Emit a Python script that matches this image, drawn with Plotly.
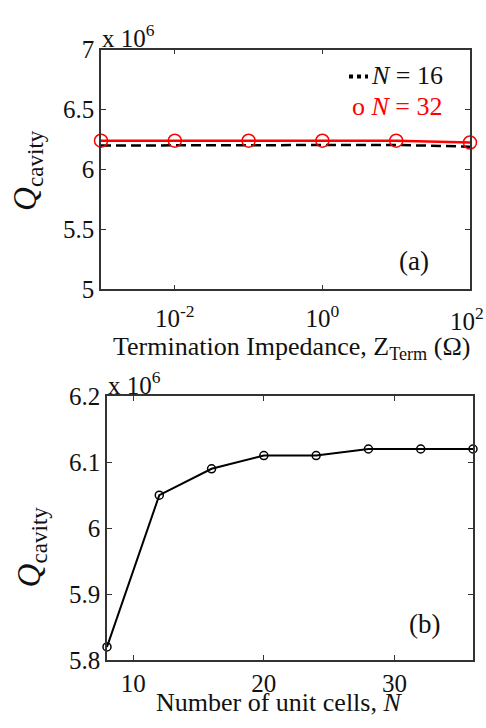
import plotly.graph_objects as go

# ---- data (Q in units of 10^6) ----
z_term = [1e-3, 1e-2, 1e-1, 1e0, 1e1, 1e2]
q_n16 = [6.20, 6.20, 6.20, 6.20, 6.205, 6.19]
q_n32 = [6.24, 6.24, 6.24, 6.24, 6.24, 6.225]

n_cells = [8, 12, 16, 20, 24, 28, 32, 36]
q_cells = [5.82, 6.05, 6.09, 6.11, 6.11, 6.12, 6.12, 6.12]

ya_ticks = [5, 5.5, 6, 6.5, 7]
ya_text = ["5", "5.5", "6", "6.5", "7"]
yb_ticks = [5.8, 5.9, 6.0, 6.1, 6.2]
yb_text = ["5.8", "5.9", "6", "6.1", "6.2"]
xa_ticks = [1e-2, 1e0, 1e2]
xa_text = ["10<sup>-2</sup>", "10<sup>0</sup>", ""]
xa_last_label = "10<sup>2</sup>"
xb_ticks = [10, 20, 30]

W, H = 486, 728
FONT = "Liberation Serif, Times New Roman, serif"
AX = "#333333"
TXT = "#111111"

def px(x):
    return x / W

def py(y):
    return 1 - y / H

fig = go.Figure()
fig.add_trace(go.Scatter(x=z_term, y=q_n16, mode="lines", name="N = 16",
                         line=dict(color="black", width=2.5, dash="10px,5px"),
                         xaxis="x", yaxis="y", showlegend=False))
fig.add_trace(go.Scatter(x=z_term, y=q_n32, mode="lines+markers", name="N = 32",
                         line=dict(color="red", width=2.5),
                         marker=dict(symbol="circle-open", size=13, color="red",
                                     line=dict(width=1.5, color="red")),
                         xaxis="x", yaxis="y", showlegend=False, cliponaxis=False))
fig.add_trace(go.Scatter(x=n_cells, y=q_cells, mode="lines+markers",
                         line=dict(color="black", width=2),
                         marker=dict(symbol="circle-open", size=8, color="black",
                                     line=dict(width=1.5, color="black")),
                         xaxis="x2", yaxis="y2", showlegend=False, cliponaxis=False))

axcommon = dict(showline=True, linecolor=AX, linewidth=1.5, mirror="ticks",
                ticks="inside", ticklen=5, tickcolor=AX, showgrid=False,
                zeroline=False,
                tickfont=dict(family=FONT, size=25, color=TXT))

fig.update_layout(
    width=W, height=H, margin=dict(l=0, r=0, t=0, b=0),
    plot_bgcolor="white", paper_bgcolor="white",
    font=dict(family=FONT, color=TXT),
    xaxis=dict(domain=[px(101), px(470)], anchor="y", type="log", range=[-3, 2],
               tickvals=xa_ticks, ticktext=xa_text, ticklabelstandoff=6, **axcommon),
    yaxis=dict(domain=[py(287), py(38)], anchor="x", range=[5, 7],
               tickvals=ya_ticks, ticktext=ya_text, ticklabelstandoff=0, **axcommon),
    xaxis2=dict(domain=[px(107), px(473)], anchor="y2", range=[8, 36],
                tickvals=xb_ticks, ticklabelstandoff=0, **axcommon),
    yaxis2=dict(domain=[py(672), py(398)], anchor="x2", range=[5.8, 6.2],
                tickvals=yb_ticks, ticktext=yb_text, ticklabelstandoff=0, **axcommon),
)

ann = []
def A(x, y, text, size, color=TXT, angle=0, xanchor="center", yanchor="middle"):
    ann.append(dict(x=px(x), y=py(y), xref="paper", yref="paper", text=text,
                    showarrow=False, textangle=angle, xanchor=xanchor, yanchor=yanchor,
                    font=dict(family=FONT, size=size, color=color)))

# last log tick label, kept inside the page
ann.append(dict(x=1.0, y=ya_ticks[0], xref="paper", yref="y", text=xa_last_label,
                showarrow=False, xanchor="right", yanchor="top", yshift=-12,
                font=dict(family=FONT, size=25, color=TXT)))
A(100, 24, "x 10<sup>6</sup>", 25, xanchor="left")
A(106, 384, "x 10<sup>6</sup>", 25, xanchor="left")
A(28, 164, "<i>Q</i><sub>cavity</sub>", 33, angle=-90)
A(31, 555, "<i>Q</i><sub>cavity</sub>", 33, angle=-90)
A(291, 348, "Termination Impedance, Z<sub>Term</sub> (Ω)", 26)
A(279, 716, "Number of unit cells, <i>N</i>", 26)
A(414, 258, "(a)", 27)
A(424, 635, "(b)", 27)
A(445, 65, "<i>N</i> = 16", 26, xanchor="right")
A(445, 97, "o <i>N</i> = 32", 26, color="red", xanchor="right")
fig.update_layout(annotations=ann)

fig.add_shape(type="line", xref="paper", yref="paper",
              x0=px(349), x1=px(368), y0=py(66), y1=py(66),
              line=dict(color="black", width=4, dash="dot"))

fig.write_html("out.html",
               post_script="document.body.style.margin='0';document.body.style.overflow='hidden';")
